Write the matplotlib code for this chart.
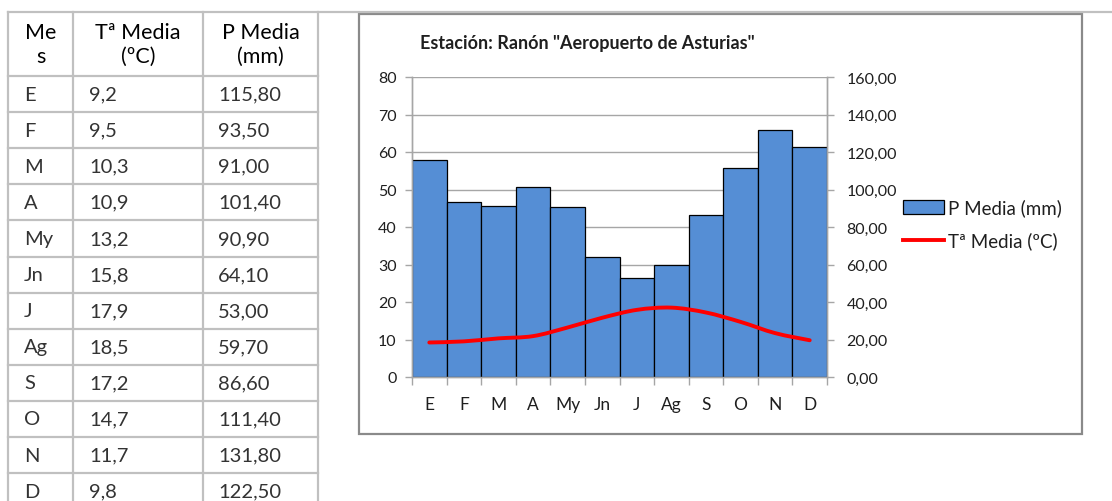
import numpy as np
import matplotlib.pyplot as plt
from matplotlib.path import Path
from matplotlib.patches import PathPatch, Patch, Rectangle
from matplotlib.lines import Line2D
from matplotlib.ticker import FuncFormatter

plt.rcParams['font.family'] = ['Lato', 'DejaVu Sans']

# data from the table
meses = ['E', 'F', 'M', 'A', 'My', 'Jn', 'J', 'Ag', 'S', 'O', 'N', 'D']
temp_media = [9.2, 9.5, 10.3, 10.9, 13.2, 15.8, 17.9, 18.5, 17.2, 14.7, 11.7, 9.8]
prec_media = [115.80, 93.50, 91.00, 101.40, 90.90, 64.10, 53.00, 59.70, 86.60, 111.40, 131.80, 122.50]
headers = ['Me\ns', 'Tª Media\n(ºC)', 'P Media\n(mm)']
titulo = 'Estación: Ranón "Aeropuerto de Asturias"'

W, H = 1112, 502
BLUE = '#558ed5'
GRID = '#a6a6a6'
TXT = '#1f1f1f'

fig = plt.figure(figsize=(W / 100, H / 100), dpi=100)


def px(x0, y0, x1, y1):
    # pixel box (top-left origin) -> figure fraction rect
    return [x0 / W, 1 - y1 / H, (x1 - x0) / W, (y1 - y0) / H]


# ---- chart ----
ax2 = fig.add_axes(px(412, 78, 827, 378))   # bars, right axis
ax = ax2.twinx()                              # temperature, left axis
ax.yaxis.tick_left()
ax.yaxis.set_label_position('left')
ax2.yaxis.tick_right()
ax.set_zorder(ax2.get_zorder() + 1)
ax.patch.set_visible(False)
ax2.patch.set_visible(False)

x = np.arange(len(meses))
ax2.bar(x, prec_media, width=1.0, color=BLUE, edgecolor='black', linewidth=0.9, zorder=3)
ax2.set_ylim(0, 160)
ax2.set_yticks(np.arange(0, 161, 20))
ax2.yaxis.set_major_formatter(FuncFormatter(lambda v, p: f'{v:.2f}'.replace('.', ',')))
ax2.grid(axis='y', color=GRID, linewidth=1)
ax2.set_axisbelow(True)
ax2.set_xlim(-0.5, len(meses) - 0.5)
ax2.set_xticks(x)
ax2.set_xticklabels(meses)
ax2.set_xticks(np.arange(-0.5, len(meses)), minor=True)
ax2.tick_params(axis='x', which='major', length=0, pad=14, labelsize=12.5, labelcolor=TXT)
ax2.tick_params(axis='x', which='minor', length=6, color=GRID, width=1)

# smoothed temperature line (bezier through the data points)
pts = np.column_stack([x, temp_media]).astype(float)
ext = np.vstack([pts[0], pts, pts[-1]])
verts = [pts[0]]
codes = [Path.MOVETO]
for i in range(len(pts) - 1):
    p0, p1, p2, p3 = ext[i], ext[i + 1], ext[i + 2], ext[i + 3]
    verts += [p1 + (p2 - p0) / 6, p2 - (p3 - p1) / 6, p2]
    codes += [Path.CURVE4] * 3
ax.add_patch(PathPatch(Path(verts, codes), fill=False, edgecolor='#ff0000', linewidth=2.8,
                       capstyle='round', joinstyle='round', transform=ax.transData, zorder=5))
ax.set_ylim(0, 80)
ax.set_yticks(np.arange(0, 81, 10))
ax.set_xlim(-0.5, len(meses) - 0.5)

ax.tick_params(axis='y', length=5, color=GRID, width=1, pad=6, labelsize=11.5, labelcolor=TXT)
ax2.tick_params(axis='y', length=5, color=GRID, width=1, pad=9, labelsize=11.5, labelcolor=TXT)
for a in (ax, ax2):
    for s in a.spines.values():
        s.set_color(GRID)
        s.set_linewidth(1)
    a.spines['top'].set_visible(False)

fig.text(420 / W, 1 - 43 / H, titulo, fontsize=13, fontweight='bold', color=TXT,
         ha='left', va='center')

handles = [Patch(facecolor=BLUE, edgecolor='black', linewidth=0.9),
           Line2D([], [], color='#ff0000', linewidth=2.8)]
fig.legend(handles, ['P Media (mm)', 'Tª Media (ºC)'], loc='center left',
           bbox_to_anchor=(895 / W, 1 - 225 / H), frameon=False, fontsize=13.5,
           handlelength=2.2, handleheight=0.8, handletextpad=0.25, labelspacing=0.8,
           labelcolor=TXT, borderaxespad=0)

# ---- table and frames (pixel overlay) ----
ov = fig.add_axes([0, 0, 1, 1])
ov.set_xlim(0, W)
ov.set_ylim(H, 0)
ov.axis('off')

TAB = '#c0c0c0'
ov.add_patch(Rectangle((359, 15), 1082 - 359, 435 - 15, fill=False, edgecolor='#8a8a8a', linewidth=1.6))
ov.plot([8, W], [13, 13], color=TAB, linewidth=1.6)
col_x = [8, 73, 203, 318]
row_h = 36.1
y_head = 77
for cx in col_x:
    ov.plot([cx, cx], [13, H + 5], color=TAB, linewidth=1.6)
for k in range(len(meses) + 1):
    yy = y_head + k * row_h
    ov.plot([8, 318], [yy, yy], color=TAB, linewidth=1.6)

for j, h in enumerate(headers):
    ov.text((col_x[j] + col_x[j + 1]) / 2, 45, h, ha='center', va='center', fontsize=15.5,
            color='black', linespacing=1.2)
text_x = [24, 89, 218]
for i, m in enumerate(meses):
    yc = y_head + (i + 0.5) * row_h
    vals = [m, f'{temp_media[i]:.1f}'.replace('.', ','), f'{prec_media[i]:.2f}'.replace('.', ',')]
    for j, v in enumerate(vals):
        ov.text(text_x[j], yc, v, ha='left', va='center', fontsize=14.5, color='#333333')

fig.savefig('out.png', dpi=100)
